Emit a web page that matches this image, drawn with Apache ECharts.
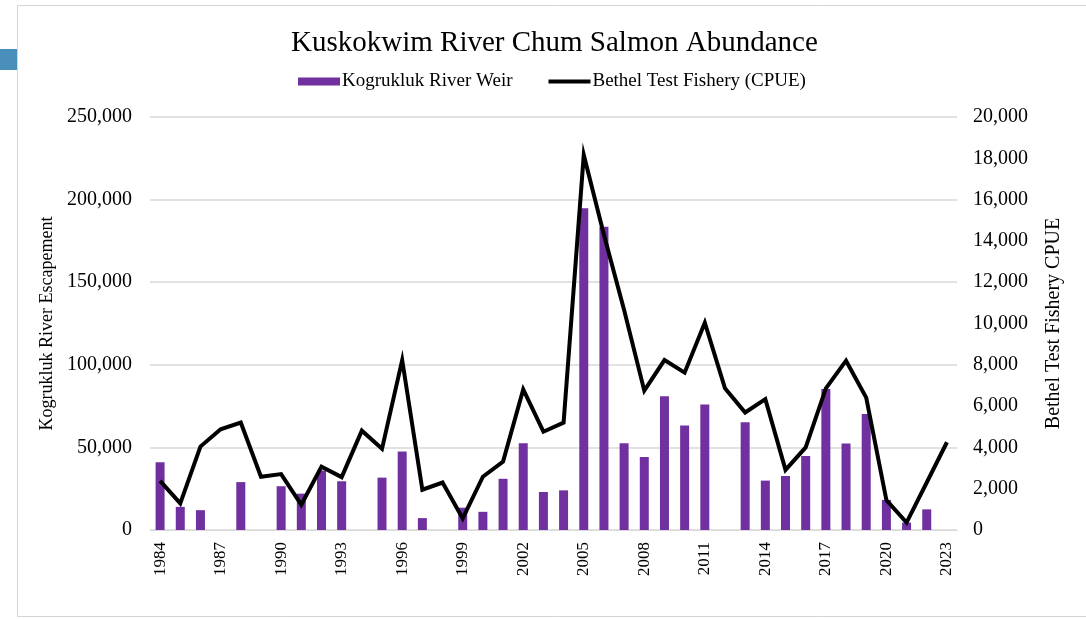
<!DOCTYPE html>
<html>
<head>
<meta charset="utf-8">
<script src="https://cdn.jsdelivr.net/npm/echarts@6/dist/echarts.min.js"></script>
<style>
  html, body { margin: 0; padding: 0; background: #fff; }
  #container { width: 1086px; height: 619px; }
</style>
</head>
<body>
<div id="container"></div>
<script>
// data
var years = [];
for (var y = 1984; y <= 2023; y++) years.push(String(y));

// Kogrukluk River weir escapement (null = no count)
var weir = [41000, 14000, 12000, null, 29000, null, 26500, 22000, 36000, 29500,
            null, 31700, 47500, 7200, null, 13500, 11000, 31000, 52500, 23000,
            24000, 194800, 183500, 52500, 44200, 81000, 63200, 76000, null, 65200,
            29900, 32700, 44800, 85400, 52300, 70200, 18200, 4500, 12500, null];

// Bethel test fishery CPUE
var cpue = [2380, 1290, 4040, 4880, 5200, 2580, 2710, 1220, 3070, 2560,
            4810, 3930, 8230, 1950, 2300, 560, 2580, 3310, 6810, 4760,
            5200, 18160, 14300, 10650, 6750, 8230, 7620, 10040, 6860, 5690,
            6340, 2910, 4000, 6860, 8200, 6410, 1450, 360, 2300, 4250];

var dom = document.getElementById('container');
var myChart = echarts.init(dom, null, { renderer: 'canvas' });

var serif = '"Liberation Serif", "Times New Roman", serif';

var option = {
   backgroundColor: '#fff',
   animation: false,
   graphic: [
      { type: 'rect', shape: { x: 17.5, y: 5.5, width: 1080, height: 611 },
        style: { fill: 'none', stroke: '#d4d4d4', lineWidth: 1 } },
      { type: 'rect', shape: { x: 0, y: 49, width: 17, height: 21 },
        style: { fill: '#4a8fbb' } }
   ],
   title: {
      text: 'Kuskokwim River Chum Salmon Abundance',
      left: 286,
      top: 24,
      textStyle: { fontFamily: serif, fontSize: 29, fontWeight: 'normal', color: '#000' }
   },
   legend: {
      top: 67,
      left: 293,
      itemGap: 36,
      itemWidth: 42,
      itemHeight: 8,
      symbolKeepAspect: true,
      textStyle: { fontFamily: serif, fontSize: 19, color: '#000', padding: [0, 0, 0, -3] },
      data: [
         { name: 'Kogrukluk River Weir', icon: 'rect' },
         { name: 'Bethel Test Fishery (CPUE)', icon: 'path://M0,0H42V4H0Z', itemStyle: { color: '#000' } }
      ]
   },
   grid: { left: 150, right: 129, top: 117, bottom: 89 },
   xAxis: {
      type: 'category',
      data: years,
      axisTick: { show: false },
      axisLine: { lineStyle: { color: '#d9d9d9', width: 1 } },
      axisLabel: {
         interval: 2,
         rotate: 90,
         color: '#000',
         fontFamily: serif,
         fontSize: 17,
         margin: 12
      }
   },
   yAxis: [
      {
         type: 'value',
         name: 'Kogrukluk River Escapement',
         nameLocation: 'middle',
         nameGap: 92,
         nameTextStyle: { fontFamily: serif, fontSize: 18, color: '#000' },
         min: 0, max: 250000, interval: 50000,
         axisLine: { show: false },
         axisTick: { show: false },
         splitLine: { lineStyle: { color: '#d9d9d9', width: 1.5 } },
         axisLabel: {
            color: '#000', fontFamily: serif, fontSize: 20, margin: 18,
            formatter: function (v) { return v.toLocaleString('en-US'); }
         }
      },
      {
         type: 'value',
         name: 'Bethel Test Fishery CPUE',
         nameLocation: 'middle',
         nameGap: 87,
         nameRotate: 90,
         nameTextStyle: { fontFamily: serif, fontSize: 20, color: '#000' },
         min: 0, max: 20000, interval: 2000,
         axisLine: { show: false },
         axisTick: { show: false },
         splitLine: { show: false },
         axisLabel: {
            color: '#000', fontFamily: serif, fontSize: 20, margin: 16,
            formatter: function (v) { return v.toLocaleString('en-US'); }
         }
      }
   ],
   series: [
      {
         name: 'Kogrukluk River Weir',
         type: 'bar',
         yAxisIndex: 0,
         barWidth: 9,
         itemStyle: { color: '#7030a0' },
         data: weir
      },
      {
         name: 'Bethel Test Fishery (CPUE)',
         type: 'line',
         yAxisIndex: 1,
         showSymbol: false,
         symbol: 'none',
         lineStyle: { color: '#000', width: 4, join: 'miter' },
         itemStyle: { color: '#000' },
         data: cpue
      }
   ]
};

myChart.setOption(option);
window.addEventListener('resize', myChart.resize);
</script>
</body>
</html>
